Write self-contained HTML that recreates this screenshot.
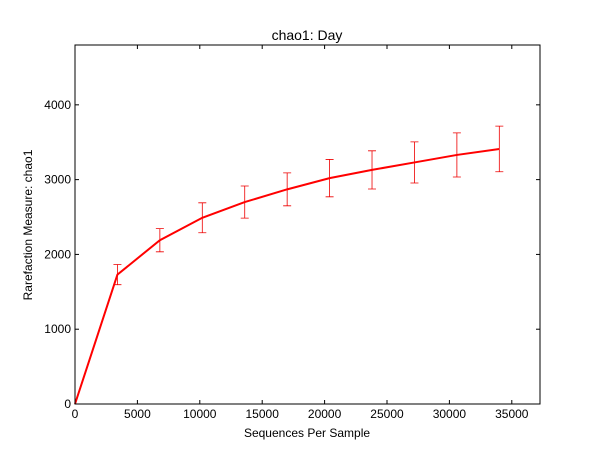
<!DOCTYPE html>
<html><head><meta charset="utf-8"><style>
body{margin:0;background:#fff;}
svg text{font-family:"Liberation Sans","DejaVu Sans",sans-serif;}
</style></head><body>
<svg id="chart" width="600" height="450" xmlns="http://www.w3.org/2000/svg">
<rect x="0" y="0" width="600" height="450" fill="#fff"/>
<g id="plot"></g>
<rect x="75" y="45" width="465" height="359" fill="none" stroke="#000" stroke-width="1"/>
<text x="307" y="40" font-size="14" text-anchor="middle">chao1: Day</text>
<text x="307" y="437" font-size="12" text-anchor="middle">Sequences Per Sample</text>
<text x="32" y="225" font-size="12" text-anchor="middle" transform="rotate(-90 32 225)">Rarefaction Measure: chao1</text>
</svg>
<script>
const xs = [0, 3400, 6800, 10200, 13600, 17000, 20400, 23800, 27200, 30600, 34000];
const ys = [0, 1730, 2190, 2490, 2700, 2870, 3020, 3130, 3230, 3330, 3410];
const errs = [0, 135, 155, 200, 215, 220, 250, 255, 275, 295, 305];
const xTicks = [0, 5000, 10000, 15000, 20000, 25000, 30000, 35000];
const yTicks = [0, 1000, 2000, 3000, 4000];

const L=75,R=540,T=45,B=404,XMAX=37260,YMAX=4800;
const sx=v=>L+v/XMAX*(R-L);
const sy=v=>B-v/YMAX*(B-T);
const NS="http://www.w3.org/2000/svg";
const g=document.getElementById('plot');
function mk(tag,attrs){const e=document.createElementNS(NS,tag);for(const k in attrs)e.setAttribute(k,attrs[k]);g.appendChild(e);return e;}

xTicks.forEach(t=>{
  const x=sx(t);
  const a=mk('line',{x1:x,x2:x,y1:B,y2:B-4,stroke:'#000'});
  
  
  const b=mk('line',{x1:x,x2:x,y1:T,y2:T+4,stroke:'#000'});
  
  
  const tx=mk('text',{x:x,y:B+14,'font-size':12,'text-anchor':'middle'});
  tx.textContent=t;
  
  
});
yTicks.forEach(t=>{
  const y=sy(t);
  const a=mk('line',{x1:L,x2:L+4,y1:y,y2:y,stroke:'#000'});
  
  
  const b=mk('line',{x1:R,x2:R-4,y1:y,y2:y,stroke:'#000'});
  
  
  const tx=mk('text',{x:L-4,y:y+4,'font-size':12,'text-anchor':'end'});
  tx.textContent=t;
  
  
});
xs.forEach((v,i)=>{
  if(!errs[i])return;
  const x=sx(v),y1=sy(ys[i]-errs[i]),y2=sy(ys[i]+errs[i]);
  const e=mk('path',{d:`M${x},${y1}V${y2}M${x-4},${y1}H${x+4}M${x-4},${y2}H${x+4}`,stroke:'#e00',fill:'none','stroke-width':0.8});
  
  
});
const line=mk('polyline',{points:xs.map((v,i)=>sx(v)+','+sy(ys[i])).join(' '),fill:'none',stroke:'#f00','stroke-width':2});


</script>
</body></html>
